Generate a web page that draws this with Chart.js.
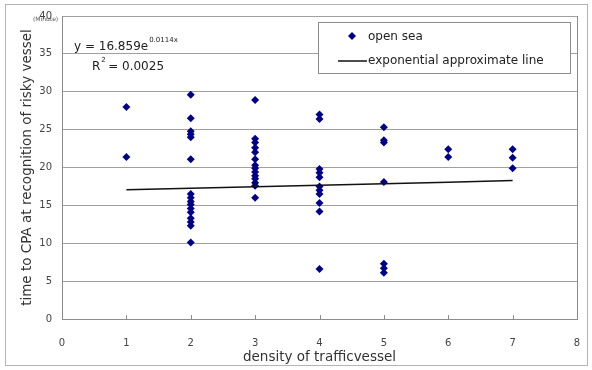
<!DOCTYPE html>
<html><head><meta charset="utf-8">
<script src="https://cdn.jsdelivr.net/npm/chart.js@4/dist/chart.umd.min.js"></script>
<style>html,body{margin:0;padding:0;background:#fff}#wrap{width:592px;height:370px;position:relative}</style>
</head><body><div id="wrap"><canvas id="c" width="592" height="370"></canvas></div>
<script>
// ---- data ----
const densityX = [
  1,1,
  2,2,2,2,2,2,2,2,2,2,2,2,2,2,2,2,
  3,3,3,3,3,3,3,3,3,3,3,3,3,3,
  4,4,4,4,4,4,4,4,4,4,4,
  5,5,5,5,5,5,5,
  6,6,
  7,7,7
];
const timeY = [
  28.0,21.4,
  29.6,26.5,24.8,24.4,24.0,21.1,16.5,16.0,15.5,15.1,14.6,14.1,13.3,12.8,12.3,10.1,
  28.9,23.8,23.3,22.6,22.0,21.1,20.3,19.9,19.4,18.9,18.5,18.0,17.6,16.0,
  27.0,26.4,19.8,19.3,18.7,17.5,17.0,16.5,15.3,14.2,6.6,
  25.3,23.6,23.3,18.1,7.3,6.7,6.1,
  22.4,21.4,
  22.4,21.3,19.9
];
const trendX = [1,2,3,4,5,6,7];
const trendY = [17.05,17.25,17.45,17.65,17.85,18.06,18.27];
const xTickValues = [0,1,2,3,4,5,6,7,8];
const yTickValues = [0,5,10,15,20,25,30,35,40];
const seriesLabels = ['open sea','exponential approximate line'];
const xTitle = 'density of trafficvessel';
const yTitle = 'time to CPA at recognition of risky vessel';
const unitText = '(Minute)';
const eqMain = 'y = 16.859e';
const eqExp = '0.0114x';
const r2Main = 'R';
const r2Sup = '2';
const r2Rest = ' = 0.0025';

const FONT = 'DejaVu Sans';
const MARK = '#000080';

const decor = {
  id: 'decor',
  beforeDraw(chart) {
    const ctx = chart.ctx;
    ctx.save();
    ctx.fillStyle = '#fff';
    ctx.fillRect(0, 0, chart.width, chart.height);
    ctx.strokeStyle = '#b4b4b4';
    ctx.lineWidth = 1;
    ctx.strokeRect(5.5, 4.5, 582, 361);
    ctx.restore();
  },
  afterDraw(chart) {
    const ctx = chart.ctx;
    const a = chart.chartArea;
    const xs = chart.scales.x;
    ctx.save();
    ctx.strokeStyle = '#8c8c8c';
    ctx.lineWidth = 1;
    ctx.beginPath();
    ctx.moveTo(Math.round(a.right) + 0.5, a.top);
    ctx.lineTo(Math.round(a.right) + 0.5, a.bottom);
    ctx.stroke();
    ctx.beginPath();
    xTickValues.forEach(v => {
      const px = Math.round(xs.getPixelForValue(v)) + 0.5;
      ctx.moveTo(px, a.bottom);
      ctx.lineTo(px, a.bottom - 4);
    });
    ctx.stroke();
    ctx.fillStyle = '#555';
    ctx.font = '6px ' + FONT;
    ctx.textAlign = 'left';
    ctx.textBaseline = 'middle';
    ctx.fillText(unitText, 33, 19);
    ctx.fillStyle = '#222';
    ctx.font = '12px ' + FONT;
    ctx.textBaseline = 'alphabetic';
    ctx.fillText(eqMain, 74, 50);
    let w = ctx.measureText(eqMain).width;
    ctx.font = '7px ' + FONT;
    ctx.fillText(eqExp, 74 + w + 1, 42);
    ctx.font = '12px ' + FONT;
    ctx.fillText(r2Main, 92, 70);
    let wr = ctx.measureText(r2Main).width;
    ctx.font = '7px ' + FONT;
    ctx.fillText(r2Sup, 92 + wr + 1, 62);
    ctx.font = '12px ' + FONT;
    ctx.fillText(r2Rest, 92 + wr + 4, 70);
    const lx = 318, ly = 22, lw = 252, lh = 51;
    ctx.fillStyle = '#fff';
    ctx.fillRect(lx, ly, lw, lh);
    ctx.strokeStyle = '#8c8c8c';
    ctx.strokeRect(lx + 0.5, ly + 0.5, lw, lh);
    ctx.fillStyle = MARK;
    ctx.beginPath();
    ctx.moveTo(352, 32); ctx.lineTo(356, 36); ctx.lineTo(352, 40); ctx.lineTo(348, 36);
    ctx.closePath(); ctx.fill();
    ctx.fillStyle = '#222';
    ctx.font = '12px ' + FONT;
    ctx.textBaseline = 'middle';
    ctx.fillText(seriesLabels[0], 368, 37);
    ctx.strokeStyle = '#111';
    ctx.lineWidth = 1.5;
    ctx.beginPath();
    ctx.moveTo(338, 61); ctx.lineTo(367, 61); ctx.stroke();
    ctx.fillText(seriesLabels[1], 368, 61);
    ctx.restore();
  }
};

new Chart(document.getElementById('c'), {
  type: 'scatter',
  data: {
    datasets: [
      {
        label: seriesLabels[0],
        data: densityX.map((x, i) => ({x: x, y: timeY[i]})),
        pointStyle: 'rectRot',
        pointRadius: 4,
        pointBackgroundColor: MARK,
        pointBorderColor: MARK,
        pointBorderWidth: 0,
        order: 2
      },
      {
        label: seriesLabels[1],
        data: trendX.map((x, i) => ({x: x, y: trendY[i]})),
        showLine: true,
        borderColor: '#111',
        borderWidth: 1.5,
        pointRadius: 0,
        fill: false,
        order: 1
      }
    ]
  },
  options: {
    responsive: false,
    animation: false,
    devicePixelRatio: 1,
    layout: {padding: {top: 15, right: 15, left: 0, bottom: 0}},
    plugins: {legend: {display: false}, tooltip: {enabled: false}},
    scales: {
      x: {
        type: 'linear', min: 0, max: 8,
        afterBuildTicks: s => { s.ticks = xTickValues.map(v => ({value: v})); },
        afterFit: s => { s.height = 51; },
        ticks: {font: {family: FONT, size: 10}, color: '#444', padding: 10, maxRotation: 0},
        grid: {display: false},
        border: {display: true, color: '#8c8c8c', width: 1},
        title: {display: true, text: xTitle, font: {family: FONT, size: 13.5}, color: '#333', padding: {top: 0, bottom: 4}}
      },
      y: {
        type: 'linear', min: 0, max: 40,
        afterBuildTicks: s => { s.ticks = yTickValues.map(v => ({value: v})); },
        afterFit: s => { s.width = 62; },
        ticks: {font: {family: FONT, size: 10}, color: '#444', padding: 10},
        grid: {color: '#a0a0a0', lineWidth: 1, tickLength: 0},
        border: {display: true, color: '#8c8c8c', width: 1},
        title: {display: true, text: yTitle, font: {family: FONT, size: 13.5}, color: '#333', padding: {top: 19, bottom: 0}}
      }
    }
  },
  plugins: [decor]
});
</script>
</body></html>
